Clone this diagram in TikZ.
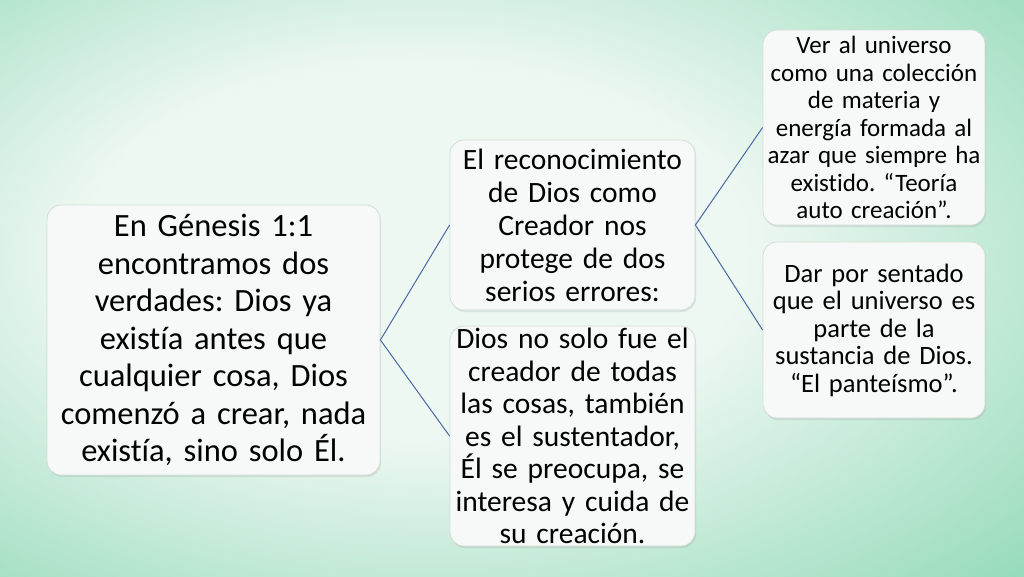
\documentclass[tikz,border=0pt]{standalone}
\usepackage{fontspec}
\setmainfont{Carlito}[Ligatures=NoCommon]
\usetikzlibrary{shadows}

\definecolor{bgin}{RGB}{238,248,242}
\definecolor{bgout}{RGB}{124,210,171}
\definecolor{boxfill}{RGB}{247,249,248}
\definecolor{boxedge}{RGB}{212,220,216}
\definecolor{linkblue}{RGB}{74,104,160}

\pgfdeclareradialshading{slidebg}{\pgfpoint{-6bp}{4bp}}{color(0bp)=(bgin); color(16bp)=(bgin); color(46bp)=(bgout); color(80bp)=(bgout)}

\begin{document}
\frenchspacing
\begin{tikzpicture}[x=1pt,y=-1pt,
    card/.style={rectangle, rounded corners=14pt, fill=boxfill, draw=boxedge, line width=0.8pt,
      inner sep=0pt, align=center, text=black,
      drop shadow={shadow xshift=1pt, shadow yshift=-2pt, opacity=0.18}},
    link/.style={draw=linkblue, line width=1pt}]
  \useasboundingbox (0,0) rectangle (1024,576);
  \fill[shading=slidebg] (0,0) rectangle (1024,576);

  \node[card, minimum width=333pt, minimum height=270pt, text width=330pt,
    font=\fontsize{32.5}{37.5}\selectfont] (genesis) at (213.5,340)
    {En Génesis 1:1\\ encontramos dos\\ verdades: Dios ya\\ existía antes que\\ cualquier cosa, Dios\\ comenzó a crear, nada\\ existía, sino solo Él.};
  \node[card, minimum width=245pt, minimum height=170pt, text width=242pt,
    font=\fontsize{29.5}{33}\selectfont] (recon) at (572.5,225)
    {El reconocimiento\\ de Dios como\\ Creador nos\\ protege de dos\\ serios errores:};
  \node[card, minimum width=245pt, minimum height=220pt, text width=242pt,
    font=\fontsize{29.5}{32.5}\selectfont] (sustenta) at (572.5,436)
    {Dios no solo fue el\\ creador de todas\\ las cosas, también\\ es el sustentador,\\ Él se preocupa, se\\ interesa y cuida de\\ su creación.};
  \node[card, minimum width=222pt, minimum height=195pt, text width=219pt,
    font=\fontsize{25}{27.5}\selectfont] (teoria) at (874,127.5)
    {Ver al universo\\ como una colección\\ de materia y\\ energía formada al\\ azar que siempre ha\\ existido. “Teoría\\ auto creación”.};
  \node[card, minimum width=222pt, minimum height=176pt, text width=219pt,
    font=\fontsize{26.5}{27.5}\selectfont] (panteismo) at (874,330)
    {Dar por sentado\\ que el universo es\\ parte de la\\ sustancia de Dios.\\ “El panteísmo”.};

  \draw[link] (recon.west) -- (genesis.east) -- (sustenta.west);
  \draw[link] (teoria.west) -- (recon.east) -- (panteismo.west);
\end{tikzpicture}
\end{document}
